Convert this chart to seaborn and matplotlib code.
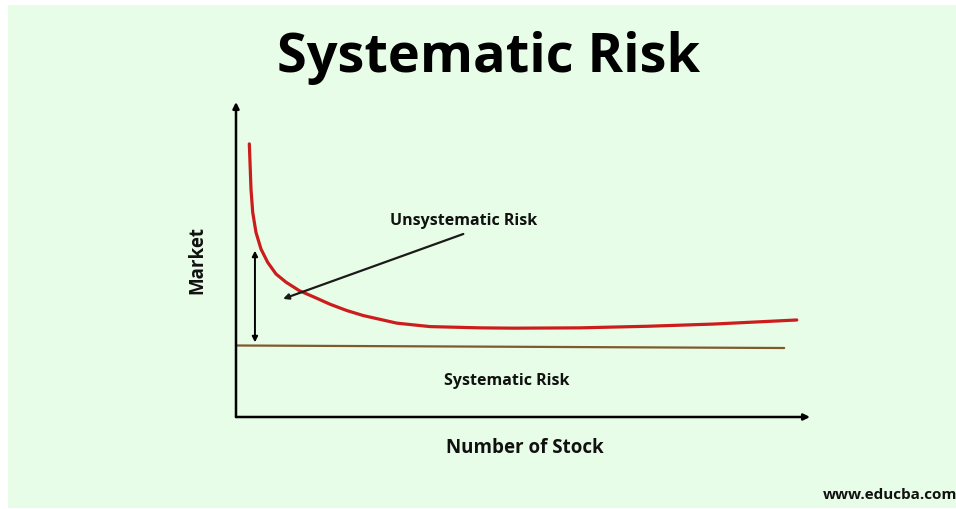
import numpy as np
import pandas as pd
import matplotlib
matplotlib.use("Agg")
import matplotlib.pyplot as plt
import seaborn as sns
from matplotlib.patches import Rectangle

# Data (x: number of stocks, y: risk level)
curve_x = [2.32, 2.44, 2.61, 2.91, 3.48, 4.36, 5.52, 6.97, 8.71, 11.03, 13.94, 16.38,
           19.3, 22.18, 28.0, 33.8, 42.5, 48.3, 59.9, 71.6, 83.1, 97.7]
curve_y = [8.67, 8.09, 7.24, 6.50, 5.86, 5.33, 4.91, 4.54, 4.28, 4.01, 3.78, 3.58,
           3.38, 3.22, 2.98, 2.87, 2.83, 2.82, 2.83, 2.88, 2.95, 3.08]
market_x = [0.2, 95.5]
market_y = [2.27, 2.19]

title = "Systematic Risk"
xlabel = "Number of Stock"
ylabel = "Market"
unsys_label = "Unsystematic Risk"
sys_label = "Systematic Risk"
credit = "www.educba.com"

W, H = 956, 510
bg = "#e7fde7"

sns.set_theme(style="white")
plt.rcParams["font.family"] = ["Open Sans", "DejaVu Sans"]

fig = plt.figure(figsize=(W / 100, H / 100), dpi=100, facecolor="white")
fig.patches.append(Rectangle((8 / W, 1 / H), 1, (H - 7) / H, transform=fig.transFigure,
                             facecolor=bg, edgecolor="none", zorder=-10))

ax = fig.add_axes([236 / W, (H - 418) / H, 574 / W, 315 / H])
ax.set_facecolor("none")
ax.set_xlim(0, 100)
ax.set_ylim(0, 10)

curve = pd.DataFrame({"x": curve_x, "y": curve_y})
market = pd.DataFrame({"x": market_x, "y": market_y})
sns.lineplot(data=curve, x="x", y="y", ax=ax, color="#cc1d1d", linewidth=2.3, sort=False)
sns.lineplot(data=market, x="x", y="y", ax=ax, color="#80592e", linewidth=1.6)

for s in ax.spines.values():
    s.set_visible(False)
ax.set_xticks([])
ax.set_yticks([])
ax.set_xlabel("")
ax.set_ylabel("")

# axes as arrows
ax.annotate("", xy=(0, 1), xytext=(0, 0), xycoords="axes fraction",
            arrowprops=dict(arrowstyle="-|>", color="black", lw=1.8, mutation_scale=9, shrinkA=0, shrinkB=0))
ax.annotate("", xy=(1, 0), xytext=(0, 0), xycoords="axes fraction",
            arrowprops=dict(arrowstyle="-|>", color="black", lw=1.8, mutation_scale=9, shrinkA=0, shrinkB=0))

# double arrow showing unsystematic risk gap
ax.annotate("", xy=(3.3, 5.28), xytext=(3.3, 2.37),
            arrowprops=dict(arrowstyle="<|-|>", color="black", lw=1.4, mutation_scale=8, shrinkA=0, shrinkB=0))

# pointer arrow
ax.annotate("", xy=(8.2, 3.75), xytext=(39.6, 5.81),
            arrowprops=dict(arrowstyle="-|>", color="#1a1a1a", lw=1.6, mutation_scale=8, shrinkA=0, shrinkB=0))

ax.text(39.7, 6.24, unsys_label, ha="center", va="center", fontsize=11.5, fontweight="bold", color="#111111")
ax.text(47.1, 1.17, sys_label, ha="center", va="center", fontsize=11.5, fontweight="bold", color="#111111")

fig.text(489 / W, 1 - 58 / H, title, ha="center", va="center", fontsize=39, fontweight="bold", color="black")
fig.text(525 / W, 1 - 448 / H, xlabel, ha="center", va="center", fontsize=13.5, fontweight="bold", color="#111111")
fig.text(197 / W, 1 - 260 / H, ylabel, ha="center", va="center", rotation=90, fontsize=13.5,
         fontweight="bold", color="#111111")
fig.text(957 / W, 1 - 495 / H, credit, ha="right", va="center", fontsize=11, fontweight="bold", color="#111111")

fig.savefig("out.png", dpi=100, facecolor=fig.get_facecolor())
